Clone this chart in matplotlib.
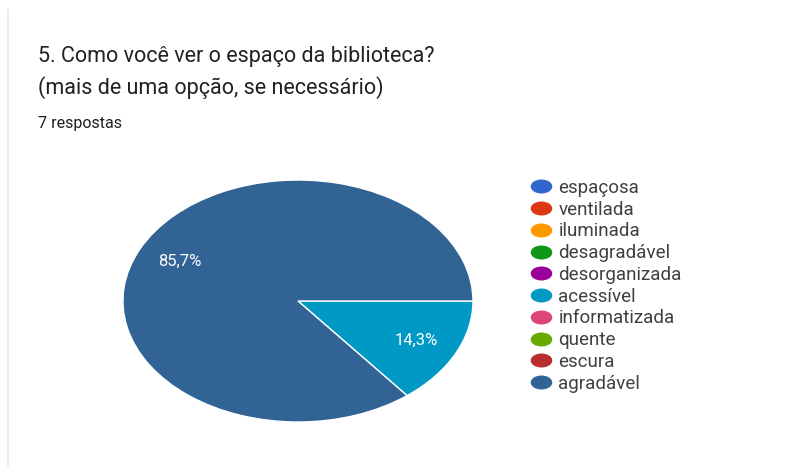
import matplotlib.pyplot as plt
from matplotlib.lines import Line2D
from matplotlib.path import Path
from matplotlib.transforms import Affine2D

plt.rcParams['font.family'] = ['Roboto', 'DejaVu Sans']

# respostas da pergunta 5
opcoes = ['espaçosa', 'ventilada', 'iluminada', 'desagradável', 'desorganizada',
          'acessível', 'informatizada', 'quente', 'escura', 'agradável']
cores = ['#3366cc', '#dc3912', '#ff9900', '#109618', '#990099',
         '#0099c6', '#dd4477', '#66aa00', '#b82e2e', '#316395']
respostas = [0, 0, 0, 0, 0, 1, 0, 0, 0, 6]

titulo = '5. Como você ver o espaço da biblioteca?\n(mais de uma opção, se necessário)'
total = '7 respostas'

fig = plt.figure(figsize=(7.98, 4.66), dpi=100)

# borda do cartão
fig.add_artist(Line2D([0.010, 0.010], [0.0, 0.978], color='#e6e6e6', lw=1.2))

fig.text(0.048, 0.902, titulo, fontsize=15.5, color='#212121',
         va='top', ha='left', linespacing=1.52)
fig.text(0.048, 0.736, total, fontsize=11.5, color='#212121', va='center', ha='left')

# só as fatias com respostas
fatias = [(v, c) for v, c in zip(respostas, cores) if v > 0]
valores = [v for v, c in fatias]
cores_fatias = [c for v, c in fatias]

ax = fig.add_axes([0.1541, 0.0944, 0.4386, 0.5193])
ax.pie(valores, colors=cores_fatias, startangle=0, counterclock=False,
       autopct=lambda p: f'{p:.1f}%'.replace('.', ','), pctdistance=0.75,
       radius=1.0, wedgeprops=dict(edgecolor='white', linewidth=1),
       textprops=dict(color='white', fontsize=12))
ax.set_aspect('auto')
ax.set_xlim(-1, 1)
ax.set_ylim(-1, 1)
ax.axis('off')

# marcador oval, como o da pizza
oval = Path.unit_circle().transformed(Affine2D().scale(1.6, 1.0))
handles = [Line2D([], [], marker=oval, linestyle='none', markersize=14.5,
                  markerfacecolor=c, markeredgecolor=c) for c in cores]
fig.legend(handles, opcoes, loc='upper left', bbox_to_anchor=(0.655, 0.632),
           frameon=False, fontsize=13.5, labelcolor='#404040',
           handletextpad=0.3, labelspacing=0.2, borderaxespad=0, handlelength=1.2)

fig.savefig('out.png', dpi=100, facecolor='white')
